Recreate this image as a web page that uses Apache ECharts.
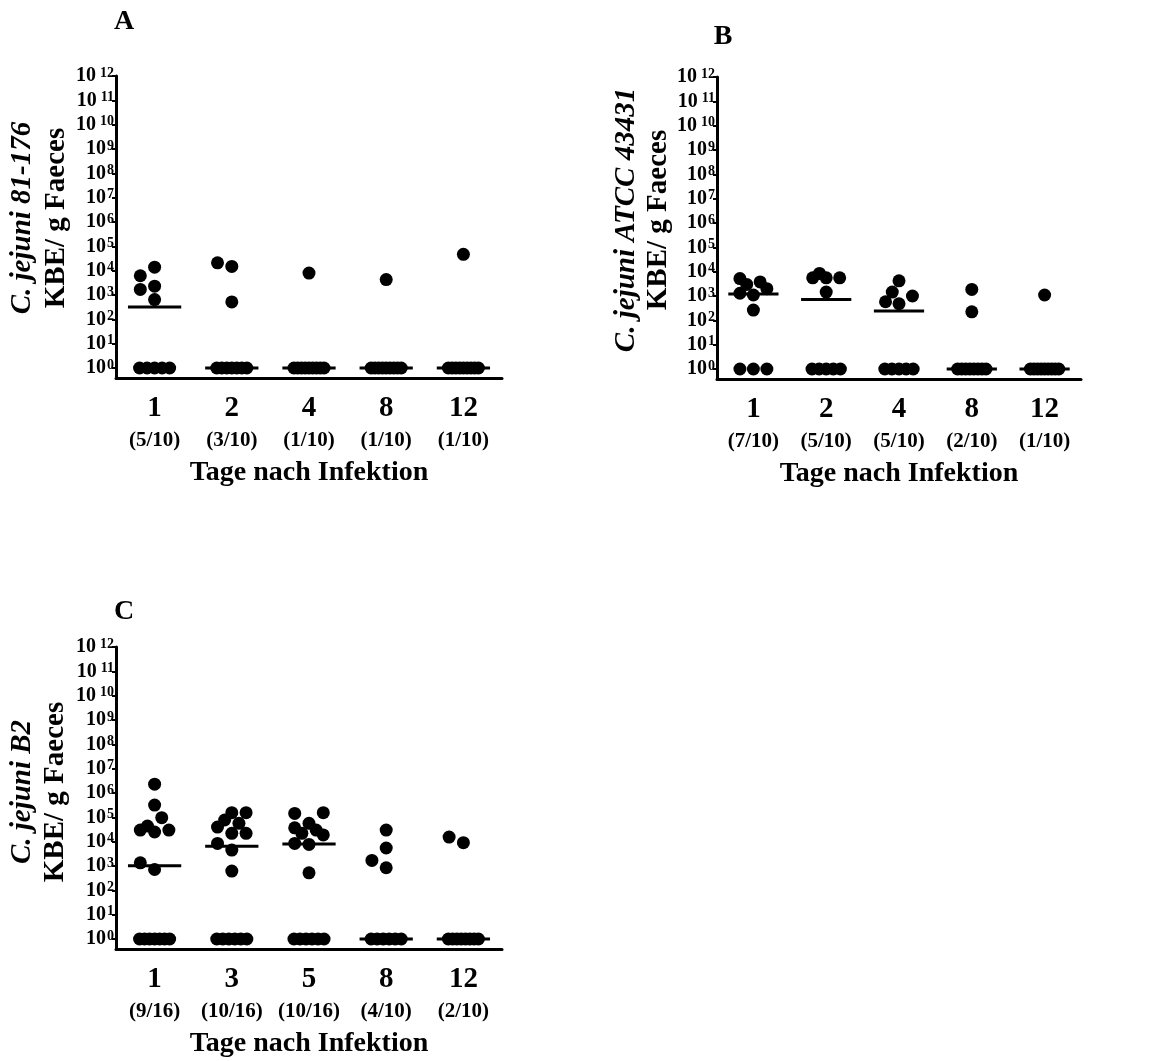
<!DOCTYPE html>
<html>
<head>
<meta charset="utf-8">
<title>C. jejuni KBE</title>
<script src="https://cdn.jsdelivr.net/npm/echarts@6/dist/echarts.min.js"></script>
<style>
  html, body { margin: 0; padding: 0; background: #fff; }
  #chart { width: 1157px; height: 1061px; }
</style>
</head>
<body>
<div id="chart"></div>
<script>
// Tage nach Infektion
const daysAB = ['1', '2', '4', '8', '12'];
const daysC = ['1', '3', '5', '8', '12'];

// KBE/g Faeces je Tier, 1 = unter Nachweisgrenze (10^0)
const valuesA = [
  [1, 1, 1, 1, 1, 650, 1700, 2300, 6200, 14000],
  [1, 1, 1, 1, 1, 1, 1, 520, 15000, 21000],
  [1, 1, 1, 1, 1, 1, 1, 1, 1, 8000],
  [1, 1, 1, 1, 1, 1, 1, 1, 1, 4300],
  [1, 1, 1, 1, 1, 1, 1, 1, 1, 47000]
];
const valuesB = [
  [1, 1, 1, 265, 1100, 1300, 2000, 3000, 3800, 5200],
  [1, 1, 1, 1, 1, 1450, 5600, 5600, 5600, 8500],
  [1, 1, 1, 1, 1, 480, 580, 1000, 1450, 4200],
  [1, 1, 1, 1, 1, 1, 1, 1, 225, 1870],
  [1, 1, 1, 1, 1, 1, 1, 1, 1, 1100]
];
const valuesC = [
  [1, 1, 1, 1, 1, 1, 1, 720, 1350, 25000, 30000, 30000, 44000, 97000, 320000, 2300000],
  [1, 1, 1, 1, 1, 1, 620, 4500, 8500, 22000, 22000, 40000, 57000, 78000, 156000, 156000],
  [1, 1, 1, 1, 1, 1, 525, 7700, 8500, 19000, 22000, 30000, 37000, 57000, 145000, 156000],
  [1, 1, 1, 1, 1, 1, 850, 1700, 5500, 30000],
  [1, 1, 1, 1, 1, 1, 1, 1, 9100, 15500]
];

const yNames = ['C. jejuni 81-176', 'C. jejuni ATCC 43431', 'C. jejuni B2'];
const panelLetters = ['A', 'B', 'C'];
const decades = [1, 1e1, 1e2, 1e3, 1e4, 1e5, 1e6, 1e7, 1e8, 1e9, 1e10, 1e11, 1e12];

const FONT = '"Liberation Serif", "Times New Roman", serif';
const yMinLog = -0.41;

const panels = [
  { days: daysAB, values: valuesA, grid: { left: 116, top: 76, width: 386, height: 302 }, letter: [124, 22],
    name: { size: 29, lh: 34, gap: 42, shift: 18 } },
  { days: daysAB, values: valuesB, grid: { left: 717, top: 77, width: 364, height: 302 }, letter: [723, 37],
    name: { size: 29, lh: 32, gap: 29, shift: 16 } },
  { days: daysC, values: valuesC, grid: { left: 116, top: 647, width: 386, height: 302 }, letter: [124, 612],
    name: { size: 29, lh: 33, gap: 44, shift: 12 } }
];

const median = arr => {
  const s = arr.slice().sort((a, b) => a - b);
  const m = s.length / 2;
  return s.length % 2 ? s[Math.floor(m)] : (s[m - 1] + s[m]) / 2;
};

// Prism-artige Streuung: Nullwerte in einer Reihe, Rest als Beeswarm (max. ±2 Schritte)
function spreadGroup(vals, catPx, decPx) {
  const minDist = 13;
  const step = 0.0925 * catPx;
  const out = [];
  const nZero = vals.filter(v => v <= 1).length;
  const gap = nZero > 1 ? Math.min(2 * step, 0.39 * catPx / (nZero - 1)) : 0;
  for (let i = 0; i < nZero; i++) {
    out.push([((i - (nZero - 1) / 2) * gap) / catPx, 1]);
  }
  const placed = [];
  vals.filter(v => v > 1).sort((a, b) => a - b).forEach(v => {
    const y = Math.log10(v) * decPx;
    let best = null, bestD = -1;
    for (let k = 0; k < 5; k++) {
      const x = Math.ceil(k / 2) * (k % 2 ? -1 : 1) * step;
      const d = placed.reduce((m, p) => Math.min(m, Math.hypot(p[0] - x, p[1] - y)), Infinity);
      if (d >= minDist) { best = x; break; }
      if (d > bestD) { bestD = d; best = x; }
    }
    placed.push([best, y]);
    out.push([best / catPx, v]);
  });
  return out;
}

const grid = [], xAxis = [], yAxis = [], series = [], graphic = [];

panels.forEach((p, pi) => {
  grid.push(Object.assign({ containLabel: false }, p.grid));
  const catPx = p.grid.width / p.days.length;
  const decPx = p.grid.height / (12 - yMinLog);

  xAxis.push({
    type: 'category',
    gridIndex: pi,
    data: p.days,
    boundaryGap: true,
    axisLine: { onZero: false, lineStyle: { color: '#000', width: 3 } },
    axisTick: { alignWithLabel: true, length: 6, lineStyle: { color: '#000', width: 2.5 } },
    axisLabel: {
      margin: 14,
      interval: 0,
      formatter: (val, idx) => {
        const vals = p.values[idx];
        const pos = vals.filter(v => v > 1).length;
        return '{n|' + val + '}\n{f|(' + pos + '/' + vals.length + ')}';
      },
      rich: {
        n: { fontFamily: FONT, fontWeight: 'bold', fontSize: 29, lineHeight: 33, color: '#000' },
        f: { fontFamily: FONT, fontWeight: 'bold', fontSize: 21, lineHeight: 31, color: '#000' }
      }
    },
    name: 'Tage nach Infektion',
    nameLocation: 'middle',
    nameGap: 81,
    nameTextStyle: { fontFamily: FONT, fontWeight: 'bold', fontSize: 28, color: '#000' },
    splitLine: { show: false }
  });

  yAxis.push({
    type: 'log',
    logBase: 10,
    gridIndex: pi,
    min: Math.pow(10, yMinLog),
    max: 1e12,
    axisLine: { show: true, onZero: false, lineStyle: { color: '#000', width: 3 } },
    axisTick: { show: true, length: 4, customValues: decades, lineStyle: { color: '#000', width: 2 } },
    axisLabel: {
      margin: 2,
      customValues: decades,
      formatter: v => {
        const e = Math.round(Math.log10(v));
        return '{b|10}{' + (e >= 10 ? 's2' : 's') + '|' + e + '}';
      },
      rich: {
        b: { fontFamily: FONT, fontWeight: 'bold', fontSize: 20, lineHeight: 20, color: '#000' },
        s: { fontFamily: FONT, fontWeight: 'bold', fontSize: 14, lineHeight: 14, verticalAlign: 'top', padding: [0, 0, 0, 1], color: '#000' },
        s2: { fontFamily: FONT, fontWeight: 'bold', fontSize: 14, lineHeight: 14, verticalAlign: 'top', padding: [0, 0, 0, 4], color: '#000' }
      }
    },
    splitLine: { show: false },
    name: '{i|' + yNames[pi] + '}\n{k|KBE/ g Faeces}',
    nameLocation: 'middle',
    nameRotate: 90,
    nameGap: p.name.gap,
    nameTextStyle: {
      padding: [0, 0, 0, p.name.shift],
      rich: {
        i: { fontFamily: FONT, fontWeight: 'bold', fontStyle: 'italic', fontSize: p.name.size, lineHeight: p.name.lh, color: '#000' },
        k: { fontFamily: FONT, fontWeight: 'bold', fontSize: p.name.size, lineHeight: p.name.lh, color: '#000' }
      }
    }
  });

  graphic.push({
    type: 'text',
    x: p.letter[0],
    y: p.letter[1],
    style: { text: panelLetters[pi], font: 'bold 28px ' + FONT, fill: '#000', align: 'center', verticalAlign: 'middle' }
  });

  series.push({
    type: 'scatter',
    xAxisIndex: pi + 3,
    yAxisIndex: pi,
    symbol: 'circle',
    symbolSize: 13,
    itemStyle: { color: '#000', opacity: 1 },
    data: p.values.flatMap((vals, di) =>
      spreadGroup(vals, catPx, decPx).map(d => [di + d[0], d[1]]))
  });

  series.push({
    type: 'scatter',
    xAxisIndex: pi + 3,
    yAxisIndex: pi,
    symbol: 'rect',
    symbolSize: [0.69 * catPx, 3],
    itemStyle: { color: '#000', opacity: 1 },
    data: p.values.map((vals, di) => [di, median(vals)])
  });
});

// unsichtbare Werteachsen für die gestreuten Punkte
panels.forEach((p, pi) => {
  xAxis.push({
    type: 'value',
    gridIndex: pi,
    min: -0.5,
    max: p.days.length - 0.5,
    show: false
  });
});

const chart = echarts.init(document.getElementById('chart'));
chart.setOption({
  backgroundColor: '#fff',
  animation: false,
  grid,
  xAxis,
  yAxis,
  series,
  graphic
});
</script>
</body>
</html>
